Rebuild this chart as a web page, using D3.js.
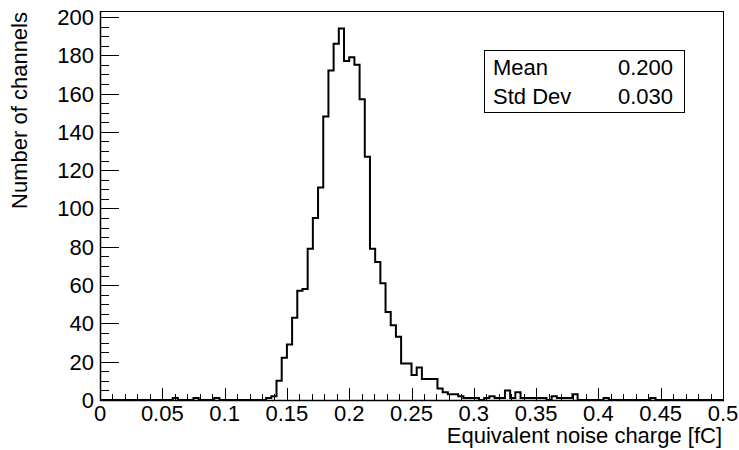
<!DOCTYPE html>
<html>
<head>
<meta charset="utf-8">
<script src="https://cdn.jsdelivr.net/npm/d3@7"></script>
<style>
  body { margin: 0; background: #fff; }
  text { font-family: "Liberation Sans", Arial, sans-serif; }
</style>
</head>
<body>
<svg id="chart"></svg>
<script>
// histogram: 120 bins from 0 to 0.5 fC
var xMin = 0, xMax = 0.5
var binCount = 120
// counts per bin (index = bin number)
var binCounts = [
    0, 0, 0, 0, 0, 0, 0, 0, 0, 0,
    0, 0, 0, 0, 1, 0, 0, 0, 1, 0,
    0, 0, 1, 0, 0, 0, 0, 0, 0, 0,
    0, 0, 1, 2, 10, 22, 29, 43, 57, 58,
    79, 95, 111, 148, 172, 186, 194, 177, 179, 175,
    157, 127, 79, 72, 61, 46, 39, 33, 19, 19,
    13, 17, 11, 11, 11, 6, 4, 3, 3, 2,
    1, 1, 1, 0, 1, 2, 1, 1, 5, 1,
    4, 1, 1, 1, 1, 1, 0, 2, 1, 1,
    1, 3, 0, 0, 0, 0, 0, 1, 0, 0,
    0, 0, 0, 0, 0, 0, 1, 0, 0, 0,
    0, 0, 0, 0, 0, 0, 0, 0, 0, 0
]
var xTicks = [0, 0.05, 0.1, 0.15, 0.2, 0.25, 0.3, 0.35, 0.4, 0.45, 0.5]
var yTicks = [0, 20, 40, 60, 80, 100, 120, 140, 160, 180, 200]
var statNames = ['Mean', 'Std Dev']
var statValues = ['0.200', '0.030']

var svgWidth = 739, svgHeight = 450
var plot = { left: 100, right: 723, top: 11, bottom: 400 }

var svg = d3.select('#chart')
    .attr('width', svgWidth)
    .attr('height', svgHeight)

var x = d3.scaleLinear().domain([xMin, xMax]).range([plot.left, plot.right])
var y = d3.scaleLinear().domain([0, 203.1]).range([plot.bottom, plot.top])

// frame
svg.append('rect')
    .attr('x', plot.left + 0.5)
    .attr('y', plot.top + 0.5)
    .attr('width', plot.right - plot.left)
    .attr('height', plot.bottom - plot.top)
    .attr('fill', 'none')
    .attr('stroke', '#000')
    .attr('stroke-width', 1)

// histogram outline as a step path
var binWidth = (xMax - xMin) / binCount
var pts = [[x(xMin), y(0)]]
binCounts.forEach(function (c, i) {
    pts.push([x(xMin + i * binWidth), y(c)])
    pts.push([x(xMin + (i + 1) * binWidth), y(c)])
})
pts.push([x(xMax), y(0)])

svg.append('path')
    .attr('d', d3.line()(pts))
    .attr('fill', 'none')
    .attr('stroke', '#000')
    .attr('stroke-width', 2)
    .attr('stroke-linejoin', 'miter')

// x axis ticks (pointing up, inside)
var xMinor = d3.range(0, 51).map(function (i) { return i * 0.01 })
svg.append('g').selectAll('line')
    .data(xMinor)
    .enter().append('line')
    .attr('x1', function (d) { return Math.round(x(d)) + 0.5 })
    .attr('x2', function (d) { return Math.round(x(d)) + 0.5 })
    .attr('y1', plot.bottom)
    .attr('y2', function (d, i) { return plot.bottom - (i % 5 === 0 ? 12 : 6) })
    .attr('stroke', '#000')

svg.append('line')
    .attr('x1', plot.left).attr('x2', plot.right + 1)
    .attr('y1', plot.bottom + 0.5).attr('y2', plot.bottom + 0.5)
    .attr('stroke', '#000').attr('stroke-width', 1.5)

svg.append('g').selectAll('text')
    .data(xTicks)
    .enter().append('text')
    .attr('x', function (d) { return x(d) })
    .attr('y', 421)
    .attr('text-anchor', 'middle')
    .attr('font-size', 22)
    .text(function (d) { return d3.format('')(d) })

// y axis ticks (pointing right, inside)
var yMinor = d3.range(0, 41).map(function (i) { return i * 5 })
svg.append('g').selectAll('line')
    .data(yMinor)
    .enter().append('line')
    .attr('x1', plot.left)
    .attr('x2', function (d, i) { return plot.left + (i % 4 === 0 ? 19 : 9) })
    .attr('y1', function (d) { return Math.round(y(d)) + 0.5 })
    .attr('y2', function (d) { return Math.round(y(d)) + 0.5 })
    .attr('stroke', '#000')

svg.append('line')
    .attr('x1', plot.left + 0.5).attr('x2', plot.left + 0.5)
    .attr('y1', plot.top).attr('y2', plot.bottom + 1)
    .attr('stroke', '#000').attr('stroke-width', 1.5)

svg.append('g').selectAll('text')
    .data(yTicks)
    .enter().append('text')
    .attr('x', 94)
    .attr('y', function (d) { return y(d) + 8 })
    .attr('text-anchor', 'end')
    .attr('font-size', 22)
    .text(function (d) { return d })

// axis titles
svg.append('text')
    .attr('x', 722)
    .attr('y', 443)
    .attr('text-anchor', 'end')
    .attr('font-size', 22)
    .text('Equivalent noise charge [fC]')

svg.append('text')
    .attr('transform', 'translate(27,12) rotate(-90)')
    .attr('text-anchor', 'end')
    .attr('font-size', 22)
    .text('Number of channels')

// stats box
var box = svg.append('g')
box.append('rect')
    .attr('x', 484.5).attr('y', 50.5)
    .attr('width', 200).attr('height', 62)
    .attr('fill', '#fff')
    .attr('stroke', '#000')

statNames.forEach(function (name, i) {
    box.append('text')
        .attr('x', 493)
        .attr('y', 75 + i * 29)
        .attr('font-size', 22)
        .text(name)
    box.append('text')
        .attr('x', 673)
        .attr('y', 75 + i * 29)
        .attr('text-anchor', 'end')
        .attr('font-size', 22)
        .text(statValues[i])
})
</script>
</body>
</html>
